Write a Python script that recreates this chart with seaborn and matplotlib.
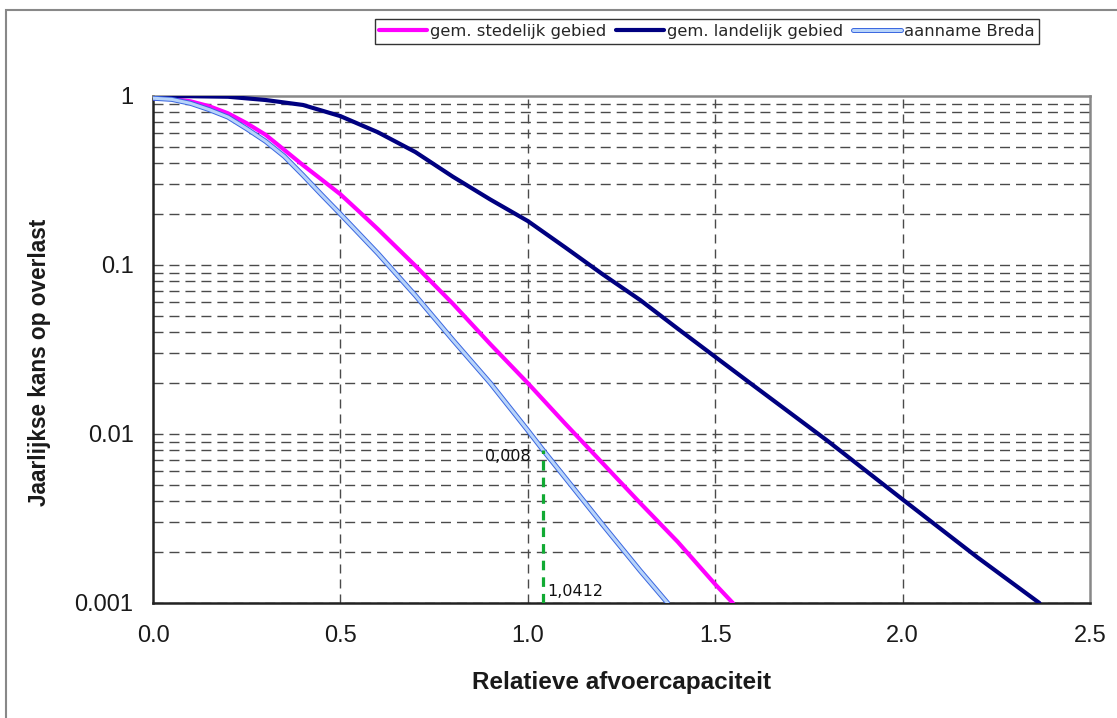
import numpy as np
import pandas as pd
import matplotlib
matplotlib.use("Agg")
import matplotlib.pyplot as plt
import matplotlib.patheffects as pe
from matplotlib.patches import Rectangle
from matplotlib.ticker import FixedLocator, NullFormatter
import seaborn as sns

# curves (x = relatieve afvoercapaciteit, y = jaarlijkse kans)
x_stedelijk = [0.0, 0.05, 0.1, 0.15, 0.2, 0.25, 0.3, 0.35, 0.4, 0.45, 0.5, 0.55, 0.6, 0.7, 0.8,
               0.9, 1.0, 1.1, 1.2, 1.3, 1.4, 1.5, 1.547]
y_stedelijk = [0.97, 0.96, 0.93, 0.87, 0.79, 0.69, 0.59, 0.48, 0.39, 0.32, 0.262, 0.207, 0.163,
               0.099, 0.059, 0.034, 0.020, 0.0115, 0.0067, 0.0039, 0.0023, 0.00129, 0.001]

x_landelijk = [0.0, 0.1, 0.2, 0.3, 0.4, 0.5, 0.6, 0.7, 0.8, 0.9, 1.0, 1.1, 1.2, 1.3, 1.4, 1.5,
               1.6, 1.8, 2.0, 2.2, 2.365]
y_landelijk = [1.0, 0.997, 0.99, 0.947, 0.885, 0.76, 0.61, 0.466, 0.333, 0.244, 0.182, 0.127,
               0.088, 0.062, 0.042, 0.0286, 0.0195, 0.0091, 0.0041, 0.00186, 0.001]

x_breda = [0.0, 0.05, 0.1, 0.15, 0.2, 0.25, 0.3, 0.35, 0.4, 0.45, 0.5, 0.6, 0.7, 0.8, 0.9, 1.0,
           1.0412, 1.1, 1.2, 1.3, 1.373]
y_breda = [0.97, 0.955, 0.905, 0.83, 0.75, 0.64, 0.54, 0.44, 0.34, 0.26, 0.20, 0.117, 0.066,
           0.036, 0.020, 0.0105, 0.008, 0.0055, 0.0029, 0.00155, 0.001]

labels = ["gem. stedelijk gebied", "gem. landelijk gebied", "aanname Breda"]

# annotated point
x_punt = 1.0412
y_punt = 0.008

x_ticks = [0.0, 0.5, 1.0, 1.5, 2.0, 2.5]
y_ticks = [0.001, 0.01, 0.1, 1]
y_ticklabels = ["0.001", "0.01", "0.1", "1"]

sns.set_style("white")
plt.rcParams['font.family'] = ['Liberation Sans', 'DejaVu Sans']

fig = plt.figure(figsize=(11.17, 7.18), dpi=100)
ax = fig.add_axes([0.137, 0.1602, 0.8388, 0.7061])

# gridlines first so the curves sit on top
for d in [0.001, 0.01, 0.1]:
    for m in range(1, 10):
        ax.axhline(d * m, color="#4a4a4a", lw=1.0, ls=(0, (7.2, 4.3)), zorder=1)
for xv in x_ticks[1:-1]:
    ax.axvline(xv, color="#4a4a4a", lw=1.0, ls=(0, (6.5, 4.3)), zorder=1)

sns.lineplot(x=x_stedelijk, y=y_stedelijk, ax=ax, color="#FF00FF", lw=3.0,
             label=labels[0], zorder=4, estimator=None, sort=False)
sns.lineplot(x=x_landelijk, y=y_landelijk, ax=ax, color="#000080", lw=3.0,
             label=labels[1], zorder=4, estimator=None, sort=False)
sns.lineplot(x=x_breda, y=y_breda, ax=ax, color="#B8D4FA", lw=2.2,
             label=labels[2], zorder=4, estimator=None, sort=False,
             path_effects=[pe.Stroke(linewidth=3.6, foreground="#3A66E0"), pe.Normal()])

# annotation at the Breda point
ax.plot([x_punt, x_punt], [0.001, y_punt], color="#11AA33", lw=2.3, ls=(0, (3, 2.2)), zorder=5)
ax.text(x_punt - 0.033, y_punt * 1.02, "0,008", ha="right", va="top", fontsize=11.5,
        family="DejaVu Sans", color="#111111", zorder=6)
ax.text(x_punt + 0.012, 0.00106, "1,0412", ha="left", va="bottom", fontsize=11.5,
        family="DejaVu Sans", color="#111111", zorder=6)

ax.set_yscale("log")
ax.set_xlim(0, 2.5)
ax.set_ylim(0.001, 1)
ax.xaxis.set_major_locator(FixedLocator(x_ticks))
ax.set_xticklabels([f"{v:.1f}" for v in x_ticks])
ax.yaxis.set_major_locator(FixedLocator(y_ticks))
ax.set_yticklabels(y_ticklabels)
ax.yaxis.set_minor_formatter(NullFormatter())
ax.tick_params(axis="both", which="major", direction="out", length=7, width=1.2,
               color="#333333", labelsize=17, labelcolor="#1a1a1a", pad=7)
ax.tick_params(axis="y", which="minor", length=0)
ax.tick_params(axis="x", pad=9)

for side in ["left", "bottom"]:
    ax.spines[side].set_color("#222222")
    ax.spines[side].set_linewidth(1.8)
for side in ["top", "right"]:
    ax.spines[side].set_color("#888888")
    ax.spines[side].set_linewidth(1.8)

ax.set_xlabel("Relatieve afvoercapaciteit", fontsize=17.5, fontweight="bold", labelpad=17,
              color="#1a1a1a")
ax.set_ylabel("Jaarlijkse kans op overlast", fontsize=16.3, fontweight="bold",
              color="#1a1a1a")
ax.yaxis.set_label_coords(-0.109, 0.475)

handles, lbls = ax.get_legend_handles_labels()
ax.get_legend().remove()
leg = fig.legend(handles, lbls, loc="center", bbox_to_anchor=(707 / 1117, 1 - 31.5 / 718),
                 ncol=3, frameon=True, fancybox=False, handlelength=2.9,
                 handletextpad=0.2, columnspacing=0.6, borderpad=0.3,
                 prop={"family": "DejaVu Sans", "size": 11.8})
leg.get_frame().set_edgecolor("black")
leg.get_frame().set_linewidth(1.0)

# outer frame of the original chart object
fig.patches.append(Rectangle((6 / 1117, -0.05), 1.2, 1.05 - 10 / 718,
                             transform=fig.transFigure, fill=False,
                             edgecolor="#888888", lw=1.5))

fig.savefig("out.png", dpi=100)
